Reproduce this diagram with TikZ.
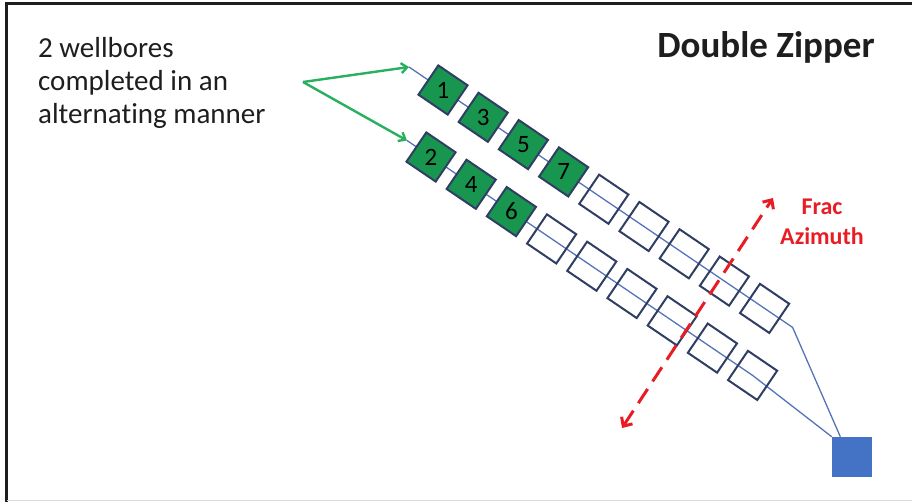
\documentclass[tikz,border=0pt]{standalone}
\usepackage{fontspec}
\setmainfont{Carlito}[Ligatures=NoCommon]
\usetikzlibrary{arrows.meta,positioning,shapes.geometric,backgrounds}

\definecolor{stagegreen}{RGB}{24,150,80}
\definecolor{pointgreen}{RGB}{40,175,95}
\definecolor{stageedge}{RGB}{48,62,100}
\definecolor{wellblue}{RGB}{85,115,185}
\definecolor{padblue}{RGB}{68,114,196}
\definecolor{fracred}{RGB}{232,28,36}
\definecolor{textgray}{RGB}{30,30,30}

\begin{document}
\begin{tikzpicture}[x=1pt, y=-1pt, on grid, node distance=27.3pt and 40.2pt,
    stage/.style={regular polygon, regular polygon sides=4, shape border rotate=-34.2,
        draw=stageedge, line width=2pt, minimum size=50pt, inner sep=0pt,
        font=\fontsize{25}{25}\selectfont},
    done/.style={stage, fill=stagegreen},
    todo/.style={stage},
    well/.style={wellblue, line width=1.3pt},
    pointer/.style={pointgreen, line width=2.4pt, -{Straight Barb[length=6pt,width=10pt]}}]
    \useasboundingbox (0,0) rectangle (912,502);

    % Frame
    \draw [line width=3pt, textgray] (6.5,502) -- (6.5,4) -- (912,4);
    \draw [line width=0.6pt, black!15] (6.5,500.5) -- (912,500.5);

    % Texts
    \node [anchor=north west, align=left, inner sep=0pt, textgray,
        font=\fontsize{29}{33}\selectfont] (note) at (38,37)
        {2 wellbores\\completed in an\\alternating manner};
    \node [textgray, font=\bfseries\fontsize{37}{37}\selectfont] (title) at (766,47) {Double Zipper};

    % Stages {1, 3, 5, 7, ...} on the upper well
    \node [done] (s1) at (443,90)       {1};
    \node [done] (s3) [below right=of s1] {3};
    \node [done] (s5) [below right=of s3] {5};
    \node [done] (s7) [below right=of s5] {7};
    \node [todo] (u5) [below right=of s7] {};
    \node [todo] (u6) [below right=of u5] {};
    \node [todo] (u7) [below right=of u6] {};
    \node [todo] (u8) [below right=of u7] {};
    \node [todo] (u9) [below right=of u8] {};

    % Stages {2, 4, 6, ...} on the lower well
    \node [done] (s2) at (431,157)      {2};
    \node [done] (s4) [below right=of s2] {4};
    \node [done] (s6) [below right=of s4] {6};
    \node [todo] (l4) [below right=of s6] {};
    \node [todo] (l5) [below right=of l4] {};
    \node [todo] (l6) [below right=of l5] {};
    \node [todo] (l7) [below right=of l6] {};
    \node [todo] (l8) [below right=of l7] {};
    \node [todo] (l9) [below right=of l8] {};

    % Pad and well ends
    \node [fill=padblue, minimum size=40pt, inner sep=0pt] (pad) at (852,457) {};
    \coordinate [above left=23pt and 34pt of s1] (w1);
    \coordinate [above left=16.5pt and 24pt of s2] (w2);
    \coordinate [below right=19pt and 28pt of u9] (bend);
    \coordinate (note tip) at (303,82);

    % Wells
    \begin{scope}[on background layer]
        \draw [well] (w1) -- (u9.center) -- (bend) -- (pad.120);
        \draw [well] (w2) -- (l9.center) -- (pad.north west);
    \end{scope}

    % Pointers
    \draw [pointer] (note tip) -- (w1);
    \draw [pointer] (note tip) -- (w2);

    % Frac azimuth
    \coordinate (az1) at (622,428);
    \coordinate (az2) at (773,198);
    \draw [fracred, line width=3pt, dash pattern=on 17pt off 9pt,
        {Straight Barb[length=7pt,width=13pt]}-{Straight Barb[length=7pt,width=13pt]}] (az1) -- (az2);
    \node [fracred, align=center, font=\bfseries\fontsize{24}{30}\selectfont] (frac) at (822,222) {Frac\\Azimuth};
\end{tikzpicture}
\end{document}
